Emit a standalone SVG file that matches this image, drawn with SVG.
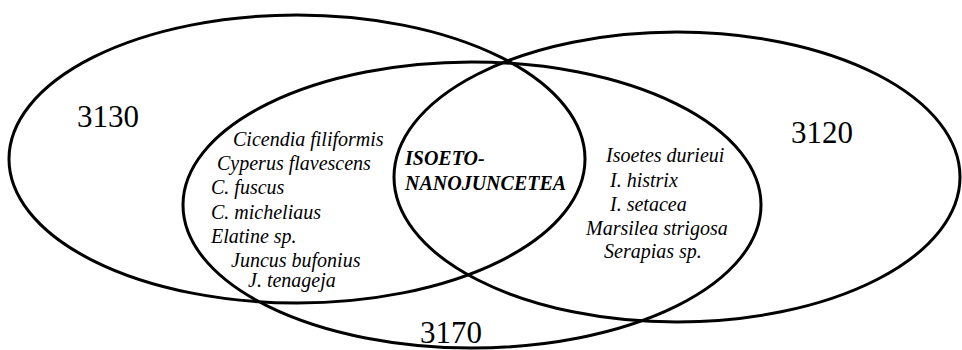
<svg xmlns="http://www.w3.org/2000/svg" width="962" height="350" viewBox="0 0 962 350">
<style>
.e{fill:none;stroke:#000;stroke-width:3}
text{font-family:'Liberation Serif','Times New Roman',Times,'DejaVu Serif',serif;fill:#000}
.num{font-size:31px}
.sp{font-style:italic;font-size:20px}
.b{font-style:italic;font-weight:bold;font-size:20px}
</style>
<rect width="962" height="350" fill="#fff"/>
<g id="set3130">
<ellipse class="e" cx="297" cy="159" rx="288" ry="144"/>
<text class="num" x="77" y="127">3130</text>
</g>
<g id="set3120">
<ellipse class="e" cx="677" cy="177" rx="283" ry="145"/>
<text class="num" x="791" y="143">3120</text>
</g>
<g id="set3170">
<ellipse class="e" cx="472" cy="205" rx="289" ry="143"/>
<text class="num" x="420" y="343">3170</text>
</g>
<g id="left-species">
<text class="sp" x="233" y="146">Cicendia filiformis</text>
<text class="sp" x="217" y="170">Cyperus flavescens</text>
<text class="sp" x="211" y="194">C. fuscus</text>
<text class="sp" x="211" y="219">C. micheliaus</text>
<text class="sp" x="211" y="243">Elatine sp.</text>
<text class="sp" x="231" y="267">Juncus bufonius</text>
<text class="sp" x="248" y="287">J. tenageja</text>
</g>
<g id="center">
<text class="b" x="405" y="165">ISOETO-</text>
<text class="b" x="405" y="190">NANOJUNCETEA</text>
</g>
<g id="right-species">
<text class="sp" x="606" y="162">Isoetes durieui</text>
<text class="sp" x="610" y="187">I. histrix</text>
<text class="sp" x="610" y="211">I. setacea</text>
<text class="sp" x="586" y="235">Marsilea strigosa</text>
<text class="sp" x="604" y="258">Serapias sp.</text>
</g>
<g id="connectors"></g>
</svg>
